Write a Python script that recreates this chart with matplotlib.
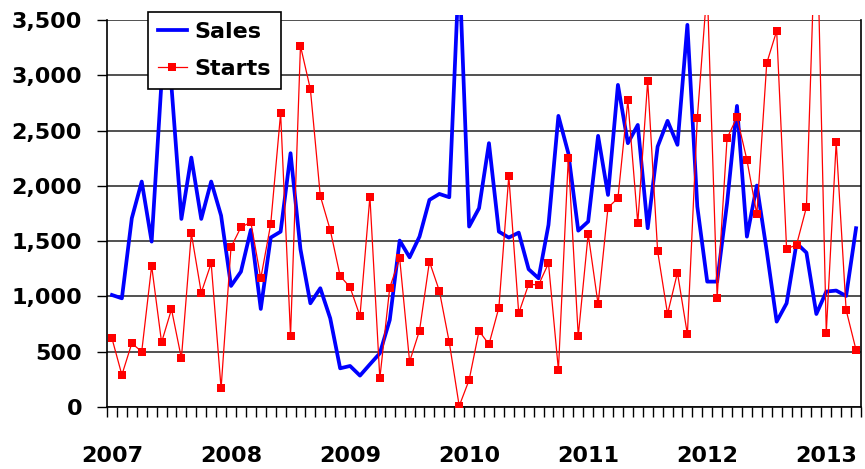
import matplotlib
matplotlib.use("Agg")
from matplotlib import pyplot as plt
from matplotlib.transforms import Bbox, TransformedBbox

# monthly values, Jan 2007 - Apr 2013
sales = [1013, 983, 1707, 2039, 1496, 2950, 2900, 1701, 2256, 1701, 2039, 1731,
         1095, 1224, 1602, 887, 1532, 1586, 2295, 1427, 938, 1074, 802, 350,
         371, 284, 386, 486, 787, 1505, 1354, 1541, 1873, 1927, 1897, 4000,
         1632, 1798, 2386, 1586, 1532, 1577, 1246, 1164, 1647, 2633, 2295, 1595,
         1677, 2452, 1918, 2913, 2386, 2551, 1617, 2355, 2588, 2371, 3456, 1813,
         1134, 1134, 1843, 2723, 1541, 2003, 1410, 772, 938, 1481, 1396, 841,
         1044, 1053, 1004, 1617]
starts = [621, 290, 576, 501, 1276, 585, 884, 440, 1571, 1034, 1300, 169,
          1445, 1626, 1671, 1164, 1653, 2657, 645, 3266, 2874, 1909, 1601, 1185,
          1083, 823, 1903, 259, 1080, 1345, 410, 691, 1315, 1050, 585, 9,
          244, 688, 567, 899, 2090, 848, 1110, 1104, 1300, 335, 2256, 642,
          1565, 929, 1804, 1888, 2772, 1662, 2950, 1411, 841, 1215, 657, 2612,
          3800, 989, 2431, 2621, 2235, 1743, 3110, 3402, 1430, 1466, 1807, 4600,
          673, 2395, 878, 516]
years = ["2007", "2008", "2009", "2010", "2011", "2012", "2013"]

x = [i + 0.5 for i in range(len(sales))]

fig = plt.figure(figsize=(8.65, 4.69), dpi=100)
ax = fig.add_axes([107 / 865, 62 / 469, 754 / 865, 387 / 469])

l1, = ax.plot(x, sales, color="#0000ff", lw=2.7, label="Sales", zorder=3)
l2, = ax.plot(x, starts, color="#ff0000", lw=0.9, marker="s", markersize=5.5,
              markeredgewidth=0, label="Starts", zorder=4)

# lines poke slightly above the top gridline like the original
clip = TransformedBbox(Bbox([[0, 0], [1, 1 + 5 / 387]]), ax.transAxes)
l1.set_clip_box(clip)
l2.set_clip_box(clip)

ax.set_xlim(0, len(sales))
ax.set_ylim(0, 3500)
ax.set_yticks(range(0, 3501, 500))
ax.set_yticklabels([f"{v:,}" for v in range(0, 3501, 500)],
                   fontsize=16, fontweight="bold")
ax.yaxis.grid(True, color="#222222", lw=1.1)
ax.set_axisbelow(True)

ax.set_xticks(range(0, len(sales) + 1))
ax.set_xticklabels([])
ax.set_xticks([12 * k + 0.5 for k in range(len(years))], minor=True)
ax.set_xticklabels(years, minor=True, fontsize=16, fontweight="bold")
ax.tick_params(axis="x", which="major", direction="out", length=7, width=1)
ax.tick_params(axis="x", which="minor", length=0, pad=28)
ax.tick_params(axis="y", direction="out", length=7, width=1, pad=11)

ax.spines["top"].set_visible(False)
for s in ["left", "bottom", "right"]:
    ax.spines[s].set_linewidth(1.2)

leg = fig.legend(handles=[l1, l2], loc="upper left",
                 bbox_to_anchor=(148 / 865, 1 - 12 / 469),
                 prop={"size": 16, "weight": "bold"}, fancybox=False,
                 framealpha=1, edgecolor="black", handlelength=1.3,
                 handletextpad=0.35, labelspacing=0.75, borderpad=0.45,
                 borderaxespad=0)
leg.get_frame().set_linewidth(1.2)

fig.savefig("out.png", dpi=100)
